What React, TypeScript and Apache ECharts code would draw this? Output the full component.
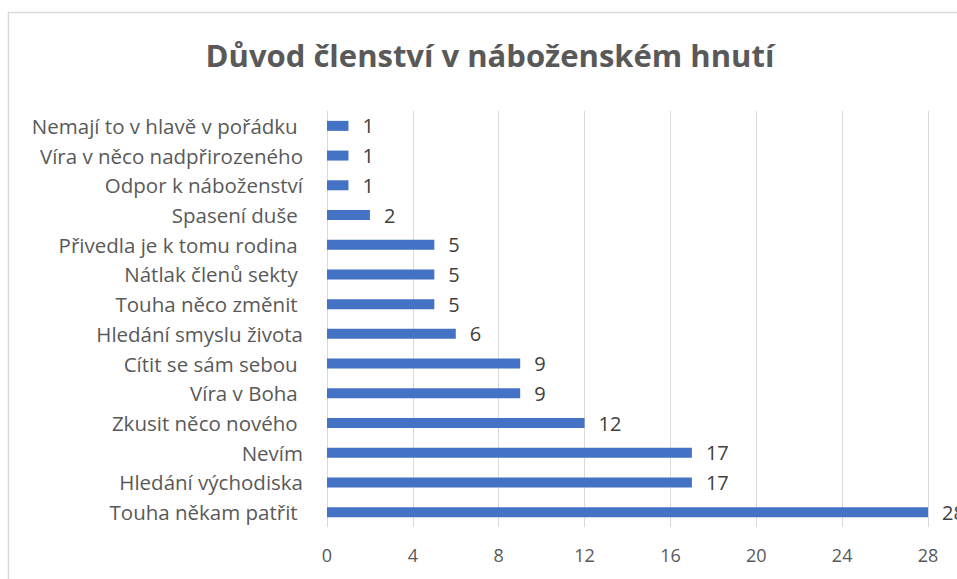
import React, { useEffect, useRef } from "react";
import * as echarts from "echarts";

const titleText = "Důvod členství v náboženském hnutí";
const categories = [
  "Nemají to v hlavě v pořádku ",
  "Víra v něco nadpřirozeného",
  "Odpor k náboženství",
  "Spasení duše ",
  "Přivedla je k tomu rodina ",
  "Nátlak členů sekty ",
  "Touha něco změnit ",
  "Hledání smyslu života",
  "Cítit se sám sebou ",
  "Víra v Boha ",
  "Zkusit něco nového ",
  "Nevím",
  "Hledání východiska",
  "Touha někam patřit ",
];
const values = [1, 1, 1, 2, 5, 5, 5, 6, 9, 9, 12, 17, 17, 28];
const axisMin = 0;
const axisMax = 28;
const axisStep = 4;

const FONT = "'Open Sans', sans-serif";

export default function App() {
  const ref = useRef<HTMLDivElement>(null);
  useEffect(() => {
    if (!ref.current) return;
    const chart = echarts.init(ref.current, null, { renderer: "svg" });
    chart.setOption({
      animation: false,
      backgroundColor: "#ffffff",
      title: {
        text: titleText,
        left: 485,
        textAlign: "center",
        top: 34,
        textStyle: {
          fontFamily: FONT,
          fontSize: 31,
          fontWeight: "bold",
          color: "#595959",
        },
      },
      graphic: [
        {
          type: "rect",
          shape: { x: 8.5, y: 12.5, width: 1200, height: 1200 },
          style: { fill: "none", stroke: "#d9d9d9", lineWidth: 1.5 },
          silent: true,
        },
      ],
      grid: { left: 327, right: 29, top: 111, bottom: 52, containLabel: false },
      xAxis: {
        type: "value",
        min: axisMin,
        max: axisMax,
        interval: axisStep,
        axisLine: { show: false },
        axisTick: { show: false },
        splitLine: { show: true, lineStyle: { color: "#d9d9d9", width: 1 } },
        axisLabel: {
          margin: 19,
          fontFamily: FONT,
          fontSize: 18,
          color: "#595959",
        },
      },
      yAxis: {
        type: "category",
        data: categories,
        inverse: true,
        axisLine: { show: false },
        axisTick: { show: false },
        splitLine: { show: false },
        axisLabel: {
          margin: 24,
          fontFamily: FONT,
          fontSize: 20.5,
          color: "#595959",
        },
      },
      series: [
        {
          type: "bar",
          data: values,
          barWidth: 10,
          itemStyle: { color: "#4472C4" },
          label: {
            show: true,
            position: "right",
            distance: 14,
            fontFamily: FONT,
            fontSize: 20,
            color: "#404040",
          },
        },
      ],
    });
    return () => chart.dispose();
  }, []);
  return (
    <div
      style={{ position: "fixed", left: 0, top: 0, width: 957, height: 579, overflow: "hidden", background: "#fff" }}
    >
      <div ref={ref} style={{ width: 957, height: 579 }} />
    </div>
  );
}
